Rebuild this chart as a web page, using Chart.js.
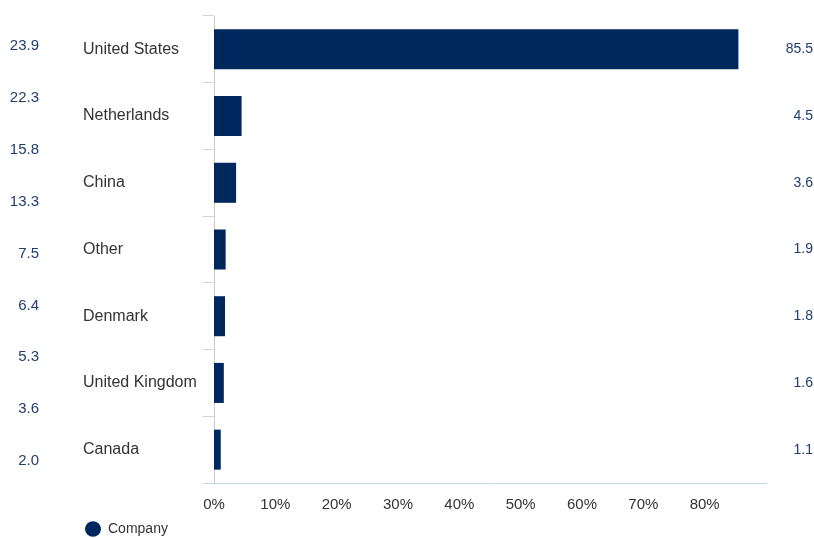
<!DOCTYPE html>
<html>
<head>
<meta charset="utf-8">
<script src="https://cdn.jsdelivr.net/npm/chart.js@4"></script>
<style>
  body { margin: 0; background: #fff; }
</style>
</head>
<body>
<canvas id="myChart" width="814" height="538"></canvas>
<script>
const countries = ['United States', 'Netherlands', 'China', 'Other', 'Denmark', 'United Kingdom', 'Canada'];
const companyWeights = [85.5, 4.5, 3.6, 1.9, 1.8, 1.6, 1.1];
const sideLabels = ['23.9', '22.3', '15.8', '13.3', '7.5', '6.4', '5.3', '3.6', '2.0'];

const navy = '#00285e';
const labelBlue = '#1f3d70';
const fontFamily = "'Liberation Sans', Arial, sans-serif";

// value text on the right of each bar row
const valueLabels = {
  id: 'valueLabels',
  afterDatasetsDraw(chart) {
    const ctx = chart.ctx;
    const meta = chart.getDatasetMeta(0);
    const values = chart.data.datasets[0].data;
    ctx.save();
    ctx.font = '14px ' + fontFamily;
    ctx.fillStyle = labelBlue;
    ctx.textAlign = 'right';
    ctx.textBaseline = 'middle';
    meta.data.forEach((bar, i) => {
      ctx.fillText(values[i].toFixed(1), chart.width - 1, bar.y);
    });
    ctx.restore();
  }
};

// legend sits under the category labels rather than at the canvas edge
const legendShift = {
  id: 'legendShift',
  afterLayout(chart) {
    chart.legend.left += 75;
    chart.legend.right += 75;
  }
};

let ctx = document.getElementById('myChart').getContext('2d');
let chart = new Chart(ctx, {
  type: 'bar',
  data: {
    labels: countries,
    datasets: [{
      label: 'Company',
      data: companyWeights,
      backgroundColor: navy,
      borderWidth: 0,
      barPercentage: 0.6,
      categoryPercentage: 1,
      pointStyle: 'circle'
    }]
  },
  options: {
    indexAxis: 'y',
    responsive: false,
    animation: false,
    layout: {
      padding: { top: 16, left: 0, right: 48, bottom: -8 }
    },
    scales: {
      x: {
        min: 0,
        max: 90,
        grid: { display: false },
        border: { color: '#ccd6eb' },
        ticks: {
          stepSize: 10,
          padding: 5,
          color: '#333',
          font: { family: fontFamily, size: 15 },
          callback: v => v >= 90 ? '' : v + '%'
        },
        afterFit: scale => { scale.height = 29; }
      },
      y: {
        weight: 0,
        offset: true,
        grid: {
          offset: true,
          drawOnChartArea: false,
          tickLength: 11,
          color: '#ccd6eb'
        },
        border: { color: '#cccccc' },
        ticks: {
          crossAlign: 'far',
          color: '#333',
          font: { family: fontFamily, size: 16 }
        },
        afterFit: scale => { scale.width = 131; }
      },
      y2: {
        type: 'category',
        position: 'left',
        weight: 1,
        labels: sideLabels,
        offset: true,
        grid: { display: false },
        border: { display: false },
        ticks: {
          padding: 36,
          labelOffset: 4,
          autoSkip: false,
          color: labelBlue,
          font: { family: fontFamily, size: 15 }
        },
        afterFit: scale => {
          scale.width = 83;
          scale.paddingTop = 0;
          scale.paddingBottom = 0;
        }
      }
    },
    plugins: {
      tooltip: { enabled: false },
      legend: {
        position: 'bottom',
        align: 'start',
        labels: {
          usePointStyle: true,
          pointStyleWidth: 16,
          boxHeight: 11,
          padding: 10,
          color: '#333',
          font: { family: fontFamily, size: 14 }
        }
      }
    }
  },
  plugins: [valueLabels, legendShift]
});
</script>
</body>
</html>
